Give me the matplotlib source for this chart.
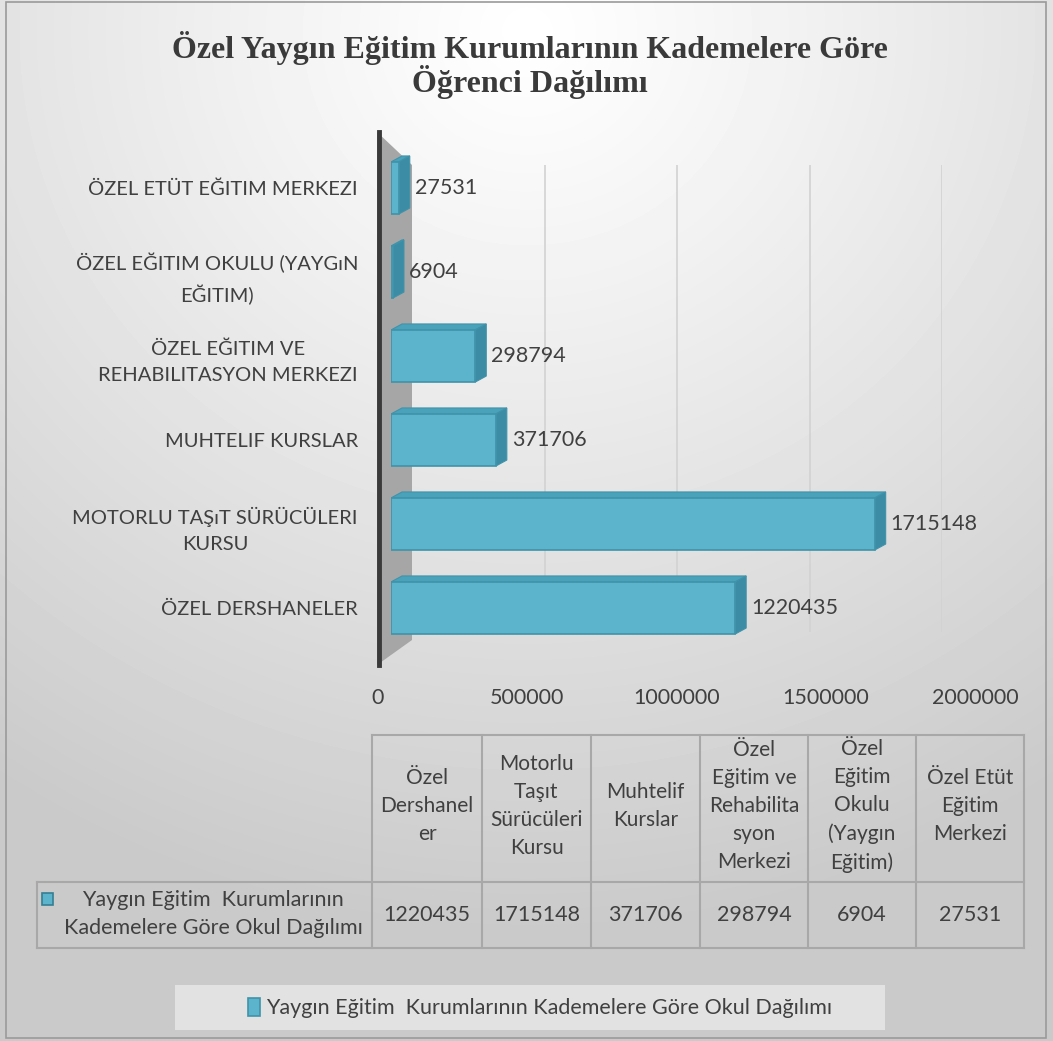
import numpy as np
import matplotlib.pyplot as plt
from matplotlib.patches import Polygon, Rectangle
from matplotlib.lines import Line2D

plt.rcParams['font.family'] = ['Lato', 'DejaVu Sans']

# kademeler (bottom to top of the bar chart, left to right in the table)
kategoriler = ['ÖZEL DERSHANELER',
               'MOTORLU TAŞıT SÜRÜCÜLERI\nKURSU',
               'MUHTELIF KURSLAR',
               'ÖZEL EĞITIM VE\nREHABILITASYON MERKEZI',
               'ÖZEL EĞITIM OKULU (YAYGıN\nEĞITIM)',
               'ÖZEL ETÜT EĞITIM MERKEZI']
tablo_basliklari = ['Özel\nDershanel\ner',
                    'Motorlu\nTaşıt\nSürücüleri\nKursu',
                    'Muhtelif\nKurslar',
                    'Özel\nEğitim ve\nRehabilita\nsyon\nMerkezi',
                    'Özel\nEğitim\nOkulu\n(Yaygın\nEğitim)',
                    'Özel Etüt\nEğitim\nMerkezi']
ogrenci = [1220435, 1715148, 371706, 298794, 6904, 27531]
seri_adi = 'Yaygın Eğitim  Kurumlarının Kademelere Göre Okul Dağılımı'
x_ticks = [0, 500000, 1000000, 1500000, 2000000]
baslik = 'Özel Yaygın Eğitim Kurumlarının Kademelere Göre\nÖğrenci Dağılımı'

W, H = 1053, 1041
TXT = '#404040'
BAR = '#5bb4cc'
BAR_EDGE = '#3f93aa'
SIDE = '#3b8ca4'
TOP = '#4aa2ba'
LINE = '#a8a8a8'


def box(x0, y0, x1, y1):
    """pixel box (top-left origin) -> figure fraction rect"""
    return [x0 / W, 1 - y1 / H, (x1 - x0) / W, (y1 - y0) / H]


fig = plt.figure(figsize=(W / 100, H / 100), dpi=100)

# background with soft radial gradient, pixel coordinates
bg = fig.add_axes([0, 0, 1, 1], zorder=-10)
bg.set_xlim(0, W)
bg.set_ylim(H, 0)
bg.axis('off')
yy, xx = np.mgrid[0:H:3, 0:W:3]
r = np.hypot(xx - 526, (yy - 30) * 1.05) / 950
shade = 1 - 0.21 * np.clip(r, 0, 1) ** 1.1
bg.imshow(shade, extent=(0, W, H, 0), cmap='gray', vmin=0, vmax=1,
          interpolation='bilinear', aspect='auto')
bg.add_patch(Rectangle((6, 2), 1040, 1036, fill=False, ec='#9a9a9a', lw=1.2))

# back wall gridlines
ax_grid = fig.add_axes(box(412, 165, 942, 632), zorder=0)
ax_grid.set_xlim(0, 2000000)
ax_grid.set_xticks(x_ticks[1:])
ax_grid.grid(axis='x', color='#d2d2d2', lw=1.2)
ax_grid.tick_params(length=0, labelbottom=False, labelleft=False)
ax_grid.set_yticks([])
ax_grid.patch.set_visible(False)
for s in ax_grid.spines.values():
    s.set_visible(False)

# bars
ax = fig.add_axes(box(391, 146, 955, 650), zorder=2)
ax.patch.set_visible(False)
for s in ax.spines.values():
    s.set_visible(False)
ax.set_xlim(0, 2000000)
ax.set_ylim(-0.5, 5.5)


def ax_pt(px, py):
    return ((px - 391) / 564, (650 - py) / 504)


# grey wall + dark axis line
wall = Polygon([ax_pt(377, 132), ax_pt(412, 165), ax_pt(412, 640), ax_pt(377, 665)],
               closed=True, transform=ax.transAxes, fc='#a6a6a6', ec='none',
               clip_on=False, zorder=1)
ax.add_patch(wall)
ax.add_line(Line2D([ax_pt(379, 0)[0]] * 2, [ax_pt(0, 132)[1], ax_pt(0, 665)[1]],
                   transform=ax.transAxes, color='#3a3a3a', lw=3.5,
                   clip_on=False, zorder=1))

y = np.arange(len(ogrenci))
bh = 0.62
bars = ax.barh(y, ogrenci, height=bh, color=BAR, edgecolor=BAR_EDGE, lw=1.2,
               zorder=4, label=seri_adi)

# depth faces
dx = 11 * 2000000 / 564
dy = 6 / 84
for i, v in zip(y, ogrenci):
    top = i + bh / 2
    bot = i - bh / 2
    ax.add_patch(Polygon([(0, top), (v, top), (v + dx, top + dy), (dx, top + dy)],
                         closed=True, fc=TOP, ec=BAR_EDGE, lw=0.8, zorder=3))
    ax.add_patch(Polygon([(v, bot), (v, top), (v + dx, top + dy), (v + dx, bot + dy)],
                         closed=True, fc=SIDE, ec=BAR_EDGE, lw=0.8, zorder=3))
    ax.annotate(str(v), xy=(v, i), xytext=(16, 0), textcoords='offset pixels',
                ha='left', va='center', fontsize=15.5, color=TXT, zorder=5)

ax.set_xticks([])
ax.set_yticks(y)
ax.set_yticklabels(kategoriler, fontsize=14.5, color=TXT)
ax.tick_params(axis='y', length=0, pad=(391 - 358) * 0.72)
for lbl in ax.get_yticklabels():
    lbl.set_multialignment('center')
    lbl.set_linespacing(1.65)

# value axis labels sit on the front edge of the floor
ax_scale = fig.add_axes(box(370, 655, 985, 656), zorder=1)
ax_scale.set_xlim((370 - 378) / 149.25 * 500000, (985 - 378) / 149.25 * 500000)
ax_scale.set_xticks(x_ticks)
ax_scale.set_xticklabels([str(t) for t in x_ticks], fontsize=15.5, color=TXT)
ax_scale.tick_params(axis='x', length=0, pad=(688 - 656) * 0.72)
ax_scale.set_yticks([])
ax_scale.patch.set_visible(False)
for s in ax_scale.spines.values():
    s.set_visible(False)

# data table
cols = [372, 482, 591, 700, 808, 916, 1024]
t_top, t_mid, t_bot, t_left = 735, 882, 948, 37
bg.plot([cols[0], cols[-1]], [t_top, t_top], color=LINE, lw=1.5)
bg.plot([t_left, cols[-1]], [t_mid, t_mid], color=LINE, lw=1.5)
bg.plot([t_left, cols[-1]], [t_bot, t_bot], color=LINE, lw=1.5)
bg.plot([t_left, t_left], [t_mid, t_bot], color=LINE, lw=1.5)
for c in cols:
    bg.plot([c, c], [t_top, t_bot], color=LINE, lw=1.5)
for k, (hdr, v) in enumerate(zip(tablo_basliklari, ogrenci)):
    cx = (cols[k] + cols[k + 1]) / 2
    bg.text(cx, 806, hdr, ha='center', va='center', fontsize=15, color=TXT,
            linespacing=1.5)
    bg.text(cx, 915, str(v), ha='center', va='center', fontsize=15.5, color=TXT)
bg.add_patch(Rectangle((42, 893), 11, 12, fc=BAR, ec='#357f93', lw=1.2))
bg.text(213, 914, seri_adi.replace('  Kurumlarının ', '  Kurumlarının\n'),
        ha='center', va='center', fontsize=15.5, color=TXT,
        multialignment='center', linespacing=1.55)

# legend
bg.add_patch(Rectangle((175, 985), 710, 45, fc='#e2e2e2', ec='none'))
fig.legend(handles=[bars], labels=[seri_adi], loc='center',
           bbox_to_anchor=(540 / W, 1 - 1008 / H), frameon=False, fontsize=15.5,
           handlelength=0.55, handleheight=0.9, handletextpad=0.3,
           labelcolor=TXT)

fig.text(530 / W, 1 - 65 / H, baslik, ha='center', va='center', fontsize=23,
         fontweight='bold', family='Liberation Serif', color='#3a3a3a',
         linespacing=1.0)

fig.savefig('out.png', dpi=100)
